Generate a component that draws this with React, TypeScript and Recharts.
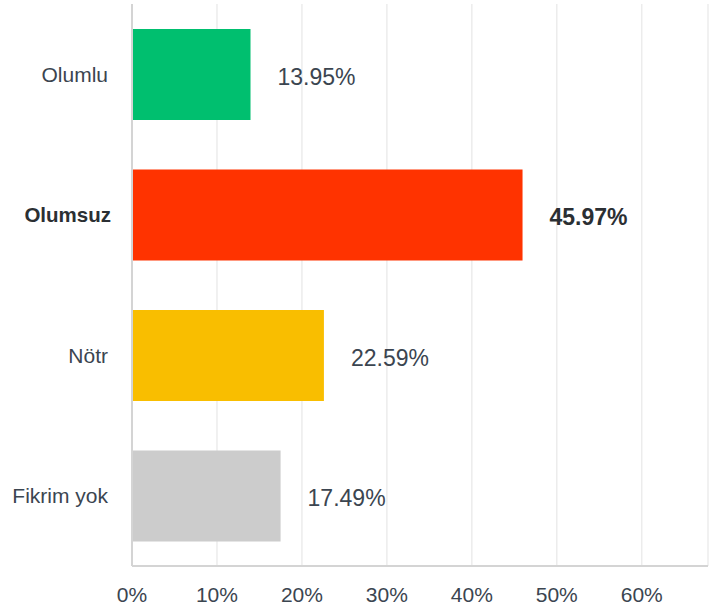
import React from "react";
import { BarChart, Bar, XAxis, YAxis, CartesianGrid, Cell, LabelList } from "recharts";

const categories = ["Olumlu", "Olumsuz", "Nötr", "Fikrim yok"];
const values = [13.95, 45.97, 22.59, 17.49];
const colors = ["#00bf6f", "#ff3300", "#f9be00", "#cccccc"];
const xTicks = [0, 10, 20, 30, 40, 50, 60];
const highlighted = "Olumsuz";

const data = categories.map((name, i) => ({ name, value: values[i], color: colors[i] }));

const FONT = "'Liberation Sans', Arial, sans-serif";
const TEXT = "#3b4550";
const DARK = "#2b2f33";

const YTick = (props: any) => {
  const { x, y, payload } = props;
  const bold = payload.value === highlighted;
  return (
    <text
      x={bold ? x + 3 : x}
      y={y}
      textAnchor="end"
      dominantBaseline="central"
      fontFamily={FONT}
      fontSize={bold ? 20.5 : 21}
      fontWeight={bold ? 700 : 400}
      fill={bold ? DARK : TEXT}
    >
      {payload.value}
    </text>
  );
};

const ValueLabel = (props: any) => {
  const { x, y, width, height, value, index } = props;
  const bold = categories[index] === highlighted;
  return (
    <text
      x={x + width + 27}
      y={y + height / 2 + 2}
      textAnchor="start"
      dominantBaseline="central"
      fontFamily={FONT}
      fontSize={23}
      fontWeight={bold ? 700 : 400}
      fill={bold ? DARK : TEXT}
    >
      {value.toFixed(2) + "%"}
    </text>
  );
};

export default function App() {
  return (
    <div style={{ position: "absolute", left: 0, top: 0, background: "#fff" }}>
      <BarChart
        width={710}
        height={607}
        data={data}
        layout="vertical"
        margin={{ top: 4, right: 2, bottom: 0, left: 0 }}
        barSize={91}
      >
        <CartesianGrid horizontal={false} vertical={true} stroke="#ececec" strokeWidth={1.5} />
        <XAxis
          type="number"
          domain={[0, 67.8]}
          ticks={xTicks}
          tickFormatter={(v: number) => `${v}%`}
          tickLine={false}
          axisLine={{ stroke: "#d4d4d4", strokeWidth: 2 }}
          tickMargin={15}
          height={41}
          interval={0}
          tick={{ fontFamily: FONT, fontSize: 21, fill: TEXT }}
        />
        <YAxis
          type="category"
          dataKey="name"
          width={132}
          tickLine={false}
          axisLine={{ stroke: "#d4d4d4", strokeWidth: 2 }}
          tickMargin={18}
          interval={0}
          tick={<YTick />}
        />
        <Bar dataKey="value" isAnimationActive={false}>
          {data.map((d, i) => (
            <Cell key={i} fill={d.color} />
          ))}
          <LabelList dataKey="value" content={<ValueLabel />} />
        </Bar>
      </BarChart>
    </div>
  );
}
